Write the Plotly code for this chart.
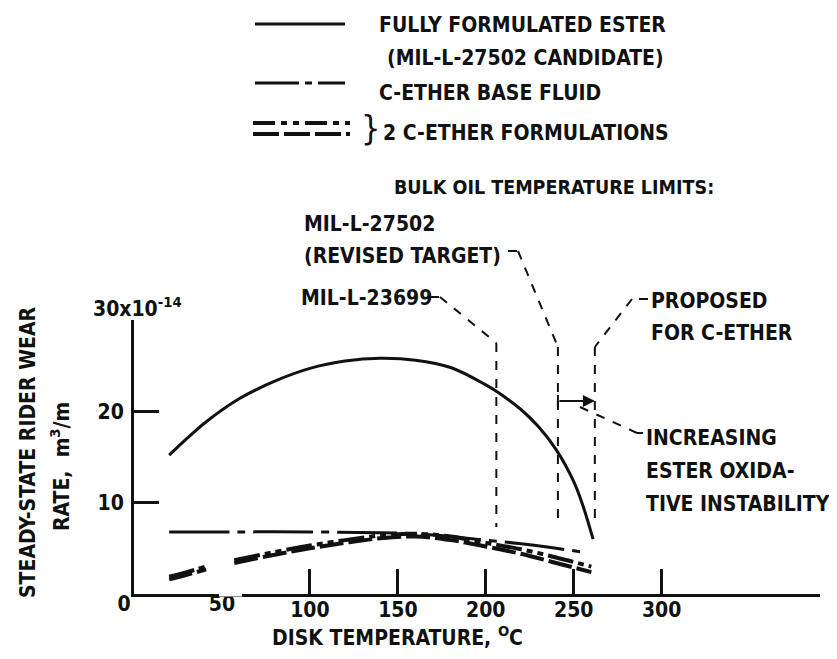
import plotly.graph_objects as go

# ---------------- data ----------------
ester_x = [20, 30, 40, 60, 80, 100, 120, 140, 160, 180, 200, 206, 220, 230, 240, 250, 255, 261]
ester_y = [15.2, 17.0, 18.7, 21.4, 23.3, 24.7, 25.5, 25.8, 25.6, 24.8, 22.9, 22.2, 20.2, 18.3, 15.8, 12.3, 9.8, 6.0]

base_x = [20, 60, 100, 140, 160, 180, 200, 220, 240, 258]
base_y = [6.8, 6.8, 6.8, 6.7, 6.6, 6.3, 5.9, 5.5, 5.0, 4.5]

form1_x = [20, 30, 41, None, 57, 80, 100, 120, 140, 160, 180, 200, 220, 240, 260]
form1_y = [1.9, 2.4, 3.0, None, 3.7, 4.6, 5.3, 5.9, 6.4, 6.6, 6.3, 5.6, 4.9, 4.0, 3.0]
form2_x = [20, 30, 41, None, 57, 80, 100, 120, 140, 160, 180, 200, 220, 240, 260]
form2_y = [1.6, 2.1, 2.7, None, 3.4, 4.3, 5.0, 5.6, 6.1, 6.3, 5.9, 5.2, 4.4, 3.4, 2.4]

x_tick_vals = [100, 150, 200, 250, 300]
x_tick_vals_plain = [0, 50]
x_tick_text_plain = ["0\u00a0\u00a0\u00a0", "50"]
y_tick_vals = [10, 20, 30]
y_tick_text = ["10", "20", ""]

limit_temps = [206, 241, 262]   # MIL-L-23699, MIL-L-27502 revised, proposed C-ether

X_RANGE = [0, 390]
Y_RANGE = [0, 30]

# ---------------- layout geometry ----------------
# reference pixel positions; the page body adds an 8px offset, compensated here
OFF = 8
W, H = 837, 659
PL, PR, PT, PB = 134, 820, 320, 594        # plot area in reference pixels
L, T = PL - OFF, PT - OFF
R, B = W - (PR - OFF), H - (PB - OFF)
PW, PH = PR - PL, PB - PT

def px(xp):
    return (xp - PL) / PW

def py(yp):
    return (PB - yp) / PH

def dx(v):
    return PL + (v - X_RANGE[0]) / (X_RANGE[1] - X_RANGE[0]) * PW

FONT = "DejaVu Sans Condensed, DejaVu Sans, sans-serif"
FS = 21
BLACK = "#111111"

def F(size=FS, weight="bold"):
    return dict(family=FONT, size=size, color=BLACK, weight=weight)

fig = go.Figure()
fig.add_trace(go.Scatter(x=ester_x, y=ester_y, mode="lines", line=dict(color=BLACK, width=3, shape="spline"),
                         name="FULLY FORMULATED ESTER"))
fig.add_trace(go.Scatter(x=base_x, y=base_y, mode="lines",
                         line=dict(color=BLACK, width=3, dash="60px,8px,8px,8px", shape="spline"),
                         name="C-ETHER BASE FLUID"))
fig.add_trace(go.Scatter(x=form1_x, y=form1_y, mode="lines", connectgaps=False,
                         line=dict(color=BLACK, width=4, dash="26px,5px,6px,5px,6px,5px", shape="spline"),
                         name="C-ETHER FORMULATION 1"))
fig.add_trace(go.Scatter(x=form2_x, y=form2_y, mode="lines", connectgaps=False,
                         line=dict(color=BLACK, width=4, dash="24px,5px", shape="spline"),
                         name="C-ETHER FORMULATION 2"))
# invisible trace for the secondary x axis (labels 0 and 50 without ticks)
fig.add_trace(go.Scatter(x=[X_RANGE[0]], y=[0], xaxis="x2", mode="markers", marker=dict(opacity=0),
                         showlegend=False, hoverinfo="skip"))

shapes = []
ann = []

def seg(x0, y0, x1, y1, dash="dash", width=2):
    shapes.append(dict(type="line", xref="paper", yref="paper", x0=px(x0), y0=py(y0), x1=px(x1), y1=py(y1),
                       line=dict(color=BLACK, width=width, dash=dash)))

def text(xp, yp, s, size=FS, xanchor="left", weight="bold", **kw):
    ann.append(dict(xref="paper", yref="paper", x=px(xp), y=py(yp), text=s, showarrow=False,
                    xanchor=xanchor, yanchor="middle", font=F(size, weight), borderpad=0, **kw))

# gap in x axis line near 50-60
shapes.append(dict(type="line", xref="paper", yref="paper", x0=px(219), x1=px(242), y0=0, y1=0,
                   line=dict(color="white", width=5), layer="above"))

# legend samples
seg(255, 24, 345, 24, dash="solid", width=3)
seg(255, 83, 345, 83, dash="44px,6px,7px,6px", width=3)
seg(253, 123, 350, 123, dash="22px,6px,6px,6px,6px,6px", width=4)
seg(253, 134, 350, 134, dash="26px,5px", width=4)
text(378, 25, "FULLY FORMULATED ESTER")
text(386, 58, "(MIL-L-27502 CANDIDATE)")
text(378, 93, "C-ETHER BASE FLUID")
text(360, 128, "}", size=34, weight="normal")
text(382, 133, "2 C-ETHER FORMULATIONS")
text(393, 188, "BULK OIL TEMPERATURE LIMITS:", size=19.5)

# limit labels
text(303, 224, "MIL-L-27502")
text(303, 256, "(REVISED TARGET)")
text(300, 298, "MIL-L-23699")
text(650, 301, "PROPOSED")
text(650, 333, "FOR C-ETHER")
text(645, 438, "INCREASING")
text(645, 471, "ESTER OXIDA-")
text(645, 504, "TIVE INSTABILITY")

# vertical limit lines
v0, v1, v2 = [dx(v) for v in limit_temps]
for v, top in [(v0, 343), (v1, 347), (v2, 347)]:
    seg(v, top, v, 527)

# leader lines
seg(430, 297, 440, 297)
seg(440, 297, v0, 343)
seg(508, 251, 518, 251)
seg(518, 251, v1, 347)
seg(648, 299, 632, 299)
seg(632, 299, v2, 347)
seg(580, 407, 637, 433)
seg(637, 433, 643, 433)

# arrow between revised target and proposed limits
seg(v1, 395, v1, 407, dash="solid", width=2)
ann.append(dict(xref="paper", yref="paper", x=px(v2), y=py(401), ax=v1 - v2, ay=0, text="",
                showarrow=True, arrowhead=2, arrowsize=1.2, arrowwidth=2, arrowcolor=BLACK))

# axis titles
text(397, 636, "DISK TEMPERATURE, <sup>O</sup>C", xanchor="center")
ann.append(dict(xref="paper", yref="paper", x=px(28), y=py(452), text="STEADY-STATE RIDER WEAR",
                textangle=-90, showarrow=False, xanchor="center", yanchor="middle", font=F()))
ann.append(dict(xref="paper", yref="paper", x=px(60), y=py(467), text="RATE,  m<sup>3</sup>/m",
                textangle=-90, showarrow=False, xanchor="center", yanchor="middle", font=F()))
text(92, 307, "30x10<sup>-14</sup>")

fig.update_layout(
    width=W, height=H,
    margin=dict(l=L, r=R, t=T, b=B, pad=0),
    paper_bgcolor="white", plot_bgcolor="white",
    showlegend=False,
    font=F(),
    xaxis=dict(range=X_RANGE, tickvals=x_tick_vals, ticks="inside", ticklen=25, tickwidth=2.5,
               tickcolor=BLACK, showline=True, linecolor=BLACK, linewidth=3, showgrid=False,
               zeroline=False, tickfont=F(), ticklabelstandoff=-5),
    xaxis2=dict(range=X_RANGE, overlaying="x", anchor="y", side="bottom", tickvals=x_tick_vals_plain,
                ticktext=x_tick_text_plain, ticks="", showline=False, showgrid=False, zeroline=False,
                tickfont=F(), ticklabelstandoff=-5),
    yaxis=dict(range=Y_RANGE, tickvals=y_tick_vals, ticktext=y_tick_text, ticks="inside", ticklen=25,
               tickwidth=2.5, tickcolor=BLACK, showline=True, linecolor=BLACK, linewidth=3,
               showgrid=False, zeroline=False, tickfont=F(), ticklabelstandoff=3),
    shapes=shapes,
    annotations=ann,
)

fig.write_html("out.html")
